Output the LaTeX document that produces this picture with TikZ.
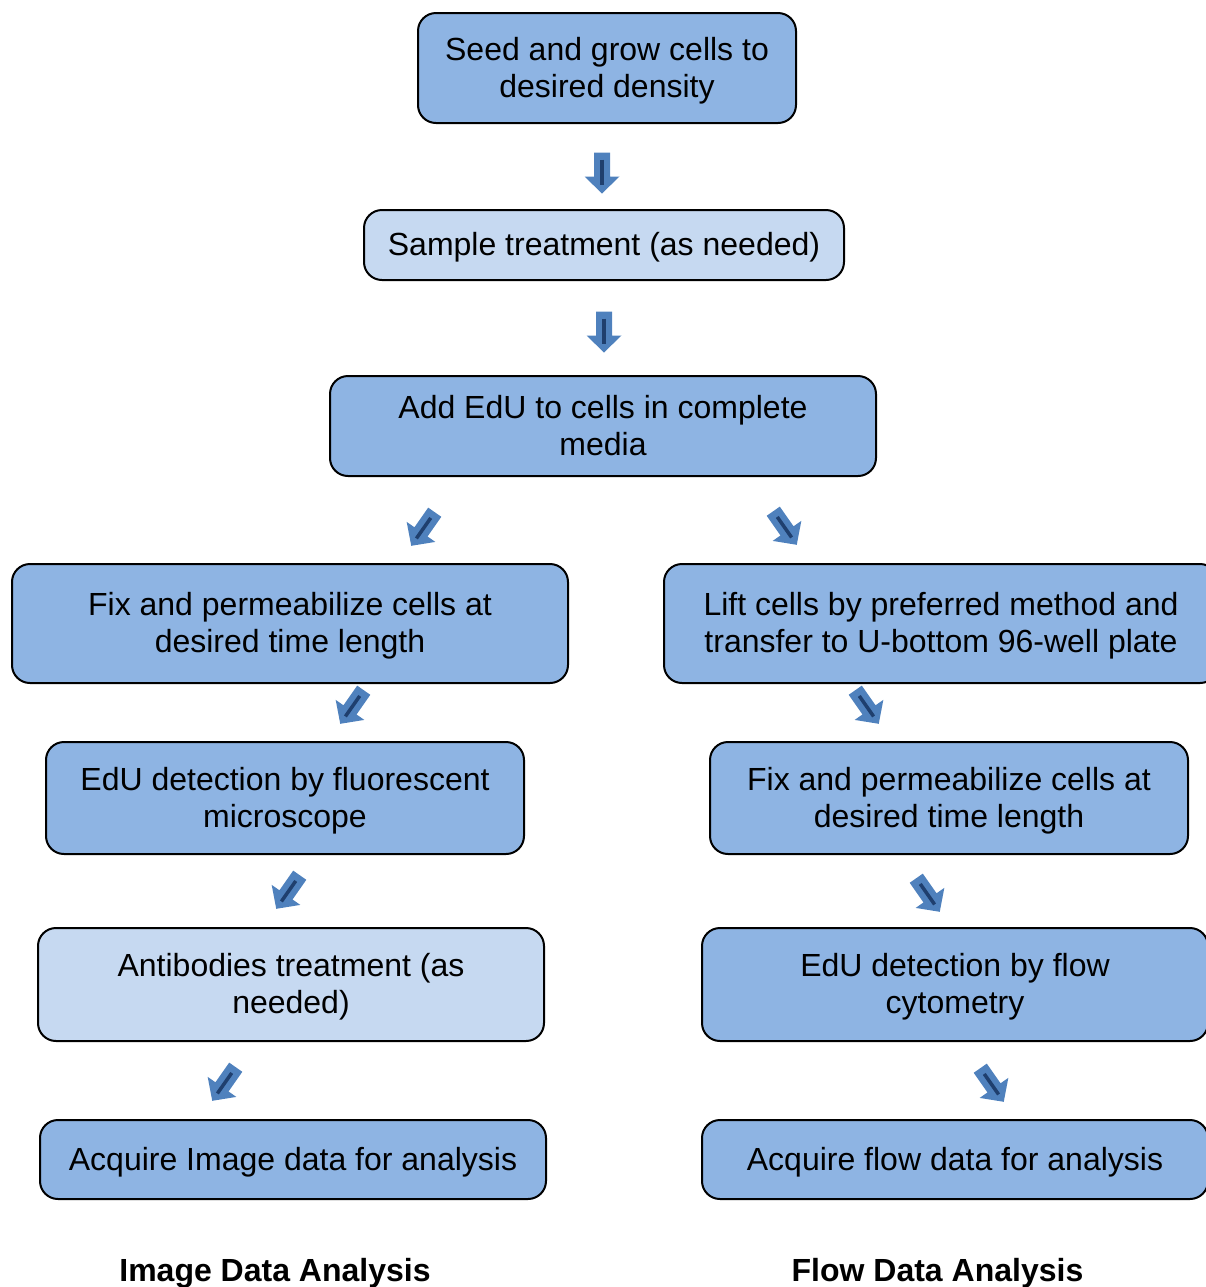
\documentclass[tikz,border=0pt]{standalone}
\usepackage{fontspec}
\setmainfont{Liberation Sans}
\definecolor{boxblue}{HTML}{8EB4E3}
\definecolor{boxlight}{HTML}{C6D9F1}
\definecolor{arrowblue}{HTML}{4F81BD}
\definecolor{arrowdark}{HTML}{1F3F6E}
\tikzset{
  box/.style={draw=black, line width=1pt, rounded corners=9pt, fill=boxblue,
    inner sep=0pt, font=\fontsize{16}{18.5}\selectfont},
  lightbox/.style={box, fill=boxlight},
  caption/.style={font=\fontsize{16}{18.5}\selectfont\bfseries, inner sep=0pt},
  arrowfill/.style={fill=arrowblue},
  arrowline/.style={draw=arrowdark, line width=1.75pt},
}
\newcommand\bt[1]{\raisebox{-1.6pt}[\height][\depth]{\begin{tabular}{@{}c@{}}#1\end{tabular}}}
\newcommand\blockarrow[4]{% name, x, y, angle
  \coordinate (#1) at (#2,#3);
  \begin{scope}[shift={(#1)},rotate=#4]
    \fill[arrowfill] (-20.5,-8) -- (3.5,-8) -- (3.5,-17.5) -- (20.5,0) -- (3.5,17.5) -- (3.5,8) -- (-20.5,8) -- cycle;
    \draw[arrowline] (-13.5,0) -- (11.5,0);
  \end{scope}}
\begin{document}
\begin{tikzpicture}[x=0.5pt,y=-0.5pt]
\useasboundingbox (0,0) rectangle (1206,1287);
\clip (0,0) rectangle (1206,1287);

\node[box, minimum width=189pt, minimum height=55pt] (seed) at (607,68) {\bt{Seed and grow cells to\\desired density}};
\node[lightbox, minimum width=240pt, minimum height=35pt] (sample) at (604,245) {\bt{Sample treatment (as needed)}};
\node[box, minimum width=273pt, minimum height=50pt] (add) at (603,426) {\bt{Add EdU to cells in complete\\media}};
\node[box, minimum width=278pt, minimum height=59.5pt] (fixl) at (290,623.5) {\bt{Fix and permeabilize cells at\\desired time length}};
\node[box, minimum width=277pt, minimum height=59.5pt] (lift) at (941,623.5) {\bt{Lift cells by preferred method and\\transfer to U-bottom 96-well plate}};
\node[box, minimum width=239pt, minimum height=56pt] (micro) at (285,798) {\bt{EdU detection by fluorescent\\microscope}};
\node[box, minimum width=239pt, minimum height=56pt] (fixr) at (949,798) {\bt{Fix and permeabilize cells at\\desired time length}};
\node[lightbox, minimum width=253pt, minimum height=56.5pt] (antib) at (291,984.5) {\bt{Antibodies treatment (as\\needed)}};
\node[box, minimum width=253pt, minimum height=56.5pt] (flow) at (955,984.5) {\bt{EdU detection by flow\\cytometry}};
\node[box, minimum width=253pt, minimum height=39.5pt] (acqi) at (293,1159.5) {\bt{Acquire Image data for analysis}};
\node[box, minimum width=253pt, minimum height=39.5pt] (acqf) at (955,1159.5) {\bt{Acquire flow data for analysis}};

\node[caption] (capi) at (275,1273) {Image Data Analysis};
\node[caption] (capf) at (937.5,1273) {Flow Data Analysis};

\blockarrow{a1}{602}{173}{-90}
\blockarrow{a2}{604}{332}{-90}
\blockarrow{a3}{423}{529}{-125}
\blockarrow{a4}{785}{528}{-55}
\blockarrow{a5}{352}{707}{-125}
\blockarrow{a6}{867}{707}{-55}
\blockarrow{a7}{288}{892}{-125}
\blockarrow{a8}{928}{895}{-55}
\blockarrow{a9}{224}{1084}{-125}
\blockarrow{a10}{992}{1085}{-55}
\end{tikzpicture}
\end{document}
